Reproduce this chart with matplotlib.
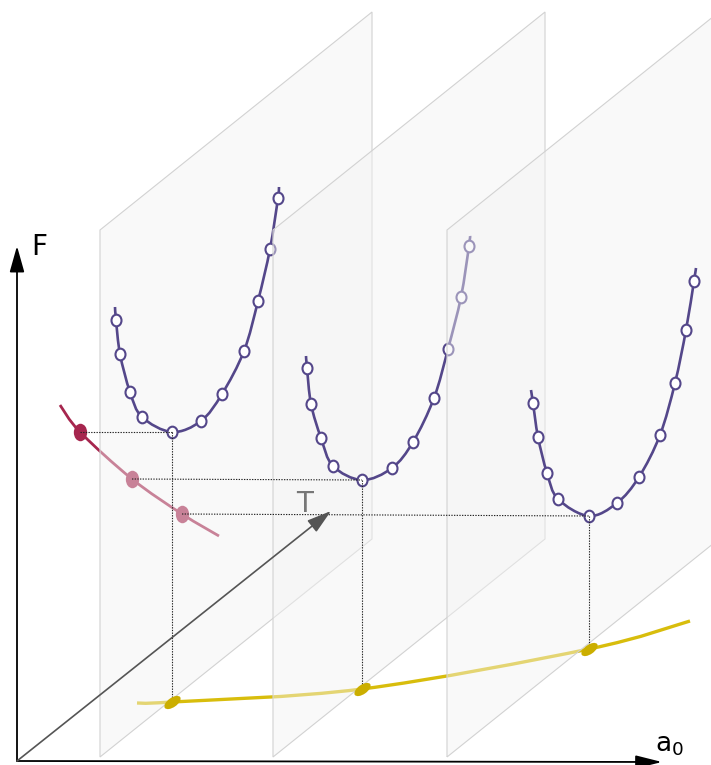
import numpy as np
import matplotlib
matplotlib.use('Agg')
import matplotlib.pyplot as plt
from matplotlib.path import Path
from matplotlib.patches import PathPatch, Polygon
from matplotlib.markers import MarkerStyle
from matplotlib.transforms import Affine2D

# picture is drawn in pixel units of the 711x765 canvas (y grows downward)

# sheets (constant a0) : left edge of each sheet
plane_left = [100, 273, 447]

# F(a0) curves, one per sheet: line points (incl. tails) and sampled points
c1_x = [115, 116, 120, 130, 142, 172, 201, 222, 244, 258, 270, 278, 279]
c1_y = [307, 320, 354, 392, 417, 432, 421, 394, 351, 301, 249, 198, 187]
c2_x = [306, 307, 311, 321, 333, 362, 392, 413, 434, 448, 461, 469, 470]
c2_y = [356, 368, 404, 438, 466, 480, 468, 442, 398, 349, 297, 246, 236]
c3_x = [531, 533, 538, 547, 558, 589, 617, 639, 660, 675, 686, 694, 696]
c3_y = [390, 403, 437, 473, 499, 516, 503, 477, 435, 383, 330, 281, 268]

# minimum F vs T (red) and a0 vs T (yellow)
red_x = [60, 80, 132, 182, 219]
red_y = [405, 432, 479, 514, 536]
yel_x = [137, 172, 362, 589, 690]
yel_y = [703, 702, 689, 649, 621]

# minima of the three curves, and where they land on the red / yellow curves
min_x = [172, 362, 589]
min_y = [432, 480, 516]
red_pt_x = [80, 132, 182]
red_pt_y = [432, 479, 514]
yel_pt_y = [702, 689, 649]

purple = '#54478a'
red = '#a6264e'
yellow = '#d8bd0c'


def smooth_path(xs, ys):
    # Catmull-Rom through the points, as cubic Bezier pieces
    pts = np.column_stack([xs, ys]).astype(float)
    verts = [pts[0]]
    codes = [Path.MOVETO]
    n = len(pts)
    for i in range(n - 1):
        p0 = pts[i - 1] if i > 0 else pts[i]
        p1 = pts[i]
        p2 = pts[i + 1]
        p3 = pts[i + 2] if i + 2 < n else pts[i + 1]
        verts += [p1 + (p2 - p0) / 6, p2 - (p3 - p1) / 6, p2]
        codes += [Path.CURVE4] * 3
    return Path(verts, codes)


fig = plt.figure(figsize=(7.11, 7.65), dpi=100)
ax = fig.add_axes([0, 0, 1, 1])
ax.set_xlim(0, 711)
ax.set_ylim(765, 0)
ax.axis('off')

# curves lying on the floor / back, drawn first so the sheets veil them
ax.add_patch(PathPatch(smooth_path(red_x, red_y), fill=False, ec=red, lw=2.0, zorder=1))
ax.plot(red_pt_x, red_pt_y, ls='none',
        marker=MarkerStyle('o', transform=Affine2D().scale(0.8, 1.05)),
        ms=12, mfc=red, mec='none', zorder=1)
ax.add_patch(PathPatch(smooth_path(yel_x, yel_y), fill=False, ec=yellow, lw=2.4, zorder=1))

curves = [(c1_x, c1_y), (c2_x, c2_y), (c3_x, c3_y)]
width, rise, height = 272, 218, 527
for k, x0 in enumerate(plane_left):
    z = 2 + 2 * k
    corners = [(x0, 757), (x0, 757 - height), (x0 + width, 757 - height - rise), (x0 + width, 757 - rise)]
    ax.add_patch(Polygon(corners, closed=True, fc='#f3f3f3', alpha=0.45, ec='none', zorder=z))
    ax.add_patch(Polygon(corners, closed=True, fill=False, ec='#d2d2d2', lw=0.8, zorder=z))
    cx, cy = curves[k]
    ax.add_patch(PathPatch(smooth_path(cx, cy), fill=False, ec=purple, lw=1.9, zorder=z + 1))
    ax.plot(cx[1:-1], cy[1:-1], ls='none',
            marker=MarkerStyle('o', transform=Affine2D().scale(0.9, 1.05)),
            ms=8, mfc='white', mec=purple, mew=1.5, zorder=z + 1.5)

# dotted projection lines
for k in range(3):
    ax.plot([red_pt_x[k], min_x[k]], [red_pt_y[k], min_y[k]],
            ls=(0, (1.2, 1.2)), color='#222222', lw=0.8, zorder=9)
    ax.plot([min_x[k], min_x[k]], [min_y[k], yel_pt_y[k]],
            ls=(0, (1.2, 1.2)), color='#222222', lw=0.8, zorder=9)

# markers on the yellow curve
ax.plot(min_x, yel_pt_y, ls='none',
        marker=MarkerStyle('o', transform=Affine2D().scale(1.5, 0.75).rotate_deg(35)),
        ms=9, mfc='#cbae00', mec='none', zorder=10)

# axes
ox, oy = 17, 761
ax.annotate('', xy=(17, 246), xytext=(ox, oy),
            arrowprops=dict(arrowstyle='-|>,head_length=1.6,head_width=0.45', color='black',
                            lw=1.3, shrinkA=0, shrinkB=0), zorder=11)
ax.annotate('', xy=(662, 762), xytext=(ox, oy),
            arrowprops=dict(arrowstyle='-|>,head_length=1.6,head_width=0.4', color='black',
                            lw=1.3, shrinkA=0, shrinkB=0), zorder=11)
ax.annotate('', xy=(331, 511), xytext=(ox, oy),
            arrowprops=dict(arrowstyle='-|>,head_length=1.5,head_width=0.45', color='#555555',
                            lw=1.2, shrinkA=0, shrinkB=0), zorder=11)

ax.text(31, 255, 'F', fontsize=20, ha='left', va='baseline', color='black', zorder=12)
ax.text(296, 512, 'T', fontsize=20, ha='left', va='baseline', color='#777777', zorder=12)
ax.text(655, 752, r'a$_0$', fontsize=19, ha='left', va='baseline', color='black', zorder=12)

fig.savefig('out.png', dpi=100)
